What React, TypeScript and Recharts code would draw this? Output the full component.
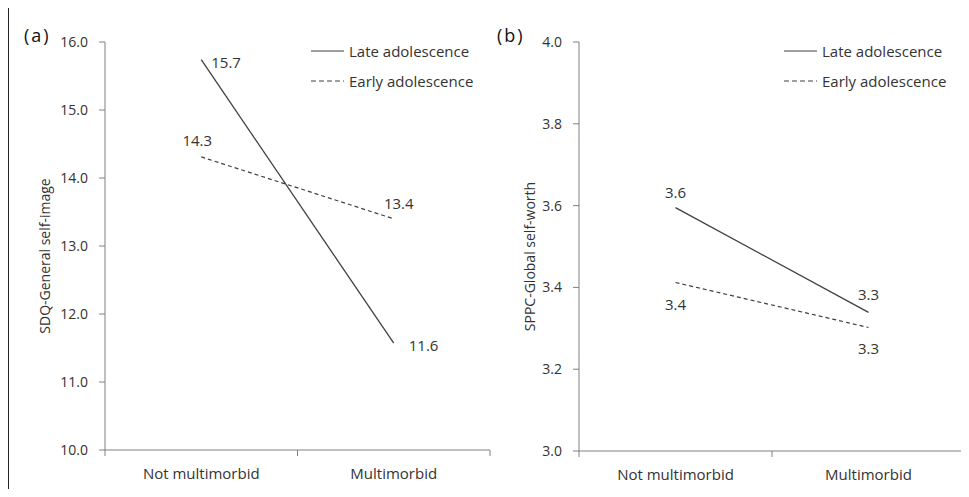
import { LineChart, Line, XAxis, YAxis, Legend, LabelList } from 'recharts';

const groups = ['Not multimorbid', 'Multimorbid'];
const selfImageLate = [15.74, 11.57];
const selfImageEarly = [14.31, 13.4];
const selfWorthLate = [3.595, 3.339];
const selfWorthEarly = [3.412, 3.302];
const selfImageTicks = [10, 11, 12, 13, 14, 15, 16];
const selfWorthTicks = [3.0, 3.2, 3.4, 3.6, 3.8, 4.0];
const seriesNames = ['Late adolescence', 'Early adolescence'];

const AXIS = '#808080';
const INK = '#404040';
const TEXT = '#333';
const X_TICK = 6;
const X_MARGIN = 12;

// label placement per point: [dx, dy, anchor]
type Place = [number, number, 'start' | 'middle' | 'end'];
const placeA: Record<string, Place[]> = {
  late: [[10, 2, 'start'], [15, 2, 'start']],
  early: [[-4, -17, 'middle'], [5, -16, 'middle']],
};
const placeB: Record<string, Place[]> = {
  late: [[0, -16, 'middle'], [0, -18, 'middle']],
  early: [[0, 22, 'middle'], [0, 21, 'middle']],
};

const makeLabel = (places: Place[]) => (props: any) => {
  const { x, y, value, index } = props;
  const [dx, dy, anchor] = places[index];
  return (
    <text x={x + dx} y={y + dy} textAnchor={anchor} dominantBaseline="central" fontSize={15} fill={TEXT}>
      {Number(value).toFixed(1)}
    </text>
  );
};

// category label plus tick marks on the band edges
const CatTick = (props: any) => {
  const { x, y, payload, index } = props;
  const axisY = y - X_TICK - X_MARGIN;
  const half = payload.offset || 0;
  return (
    <g>
      <line x1={x - half} x2={x - half} y1={axisY} y2={axisY + X_TICK} stroke={AXIS} />
      {index === groups.length - 1 && <line x1={x + half} x2={x + half} y1={axisY} y2={axisY + X_TICK} stroke={AXIS} />}
      <text x={x} y={y} dy="0.71em" textAnchor="middle" fontSize={15} fill={TEXT}>{payload.value}</text>
    </g>
  );
};

const LegendBox = () => (
  <div style={{ fontSize: 15, color: TEXT }}>
    {seriesNames.map((name, i) => (
      <div key={name} style={{ display: 'flex', alignItems: 'center', height: 30 }}>
        <svg width={33} height={4}>
          <line x1={0} y1={2} x2={33} y2={2} stroke={INK} strokeWidth={1.2} strokeDasharray={i === 1 ? '5 3' : undefined} />
        </svg>
        <span style={{ marginLeft: 5 }}>{name}</span>
      </div>
    ))}
  </div>
);

function Panel(props: {
  late: number[];
  early: number[];
  ticks: number[];
  yLabel: string;
  width: number;
  yWidth: number;
  bottom: number;
  legendLeft: number;
  place: Record<string, Place[]>;
}) {
  const data = groups.map((g, i) => ({ group: g, late: props.late[i], early: props.early[i] }));
  const ticks = props.ticks;
  return (
    <LineChart width={props.width} height={480} data={data} margin={{ top: 34, right: 3, left: 7, bottom: props.bottom }}>
      <XAxis
        dataKey="group"
        scale="band"
        stroke={AXIS}
        tickLine={false}
        height={31}
        tickSize={X_TICK}
        tickMargin={X_MARGIN}
        tick={CatTick}
      />
      <YAxis
        domain={[ticks[0], ticks[ticks.length - 1]]}
        ticks={ticks}
        interval={0}
        width={props.yWidth}
        stroke={AXIS}
        tickSize={6}
        tickMargin={11}
        tick={{ fontSize: 14, fill: TEXT }}
        tickFormatter={(v: number) => v.toFixed(1)}
        label={{ value: props.yLabel, angle: -90, position: 'insideLeft', offset: 30, dy: 10, fontSize: 14, fill: TEXT, style: { textAnchor: 'middle' } }}
      />
      <Legend
        layout="vertical"
        align="center"
        verticalAlign="middle"
        content={LegendBox}
        wrapperStyle={{ left: props.legendLeft, top: 28, width: 180 }}
      />
      <Line dataKey="late" name={seriesNames[0]} stroke={INK} strokeWidth={1.3} dot={false} isAnimationActive={false}>
        <LabelList dataKey="late" content={makeLabel(props.place.late)} />
      </Line>
      <Line dataKey="early" name={seriesNames[1]} stroke={INK} strokeWidth={1.2} strokeDasharray="4 3" dot={false} isAnimationActive={false}>
        <LabelList dataKey="early" content={makeLabel(props.place.early)} />
      </Line>
    </LineChart>
  );
}

export default function App() {
  return (
    <div style={{ position: 'relative', width: 961, height: 481, fontFamily: '"Open Sans", sans-serif' }}>
      <div style={{ position: 'absolute', left: -1, top: -2, width: 962, height: 483, borderTop: '2px solid #222', borderLeft: '2px solid #222', boxSizing: 'border-box' }} />
      <div style={{ position: 'absolute', left: 0, top: 0 }}>
        <Panel late={selfImageLate} early={selfImageEarly} ticks={selfImageTicks} yLabel="SDQ-General self-image"
          width={485} yWidth={90} bottom={7} legendLeft={303} place={placeA} />
      </div>
      <div style={{ position: 'absolute', left: 485, top: 0 }}>
        <Panel late={selfWorthLate} early={selfWorthEarly} ticks={selfWorthTicks} yLabel="SPPC-Global self-worth"
          width={475} yWidth={79} bottom={6} legendLeft={291} place={placeB} />
      </div>
      <div style={{ position: 'absolute', left: 16, top: 15, fontSize: 18, letterSpacing: 2, color: '#111' }}>(a)</div>
      <div style={{ position: 'absolute', left: 489, top: 15, fontSize: 18, letterSpacing: 2, color: '#111' }}>(b)</div>
    </div>
  );
}
